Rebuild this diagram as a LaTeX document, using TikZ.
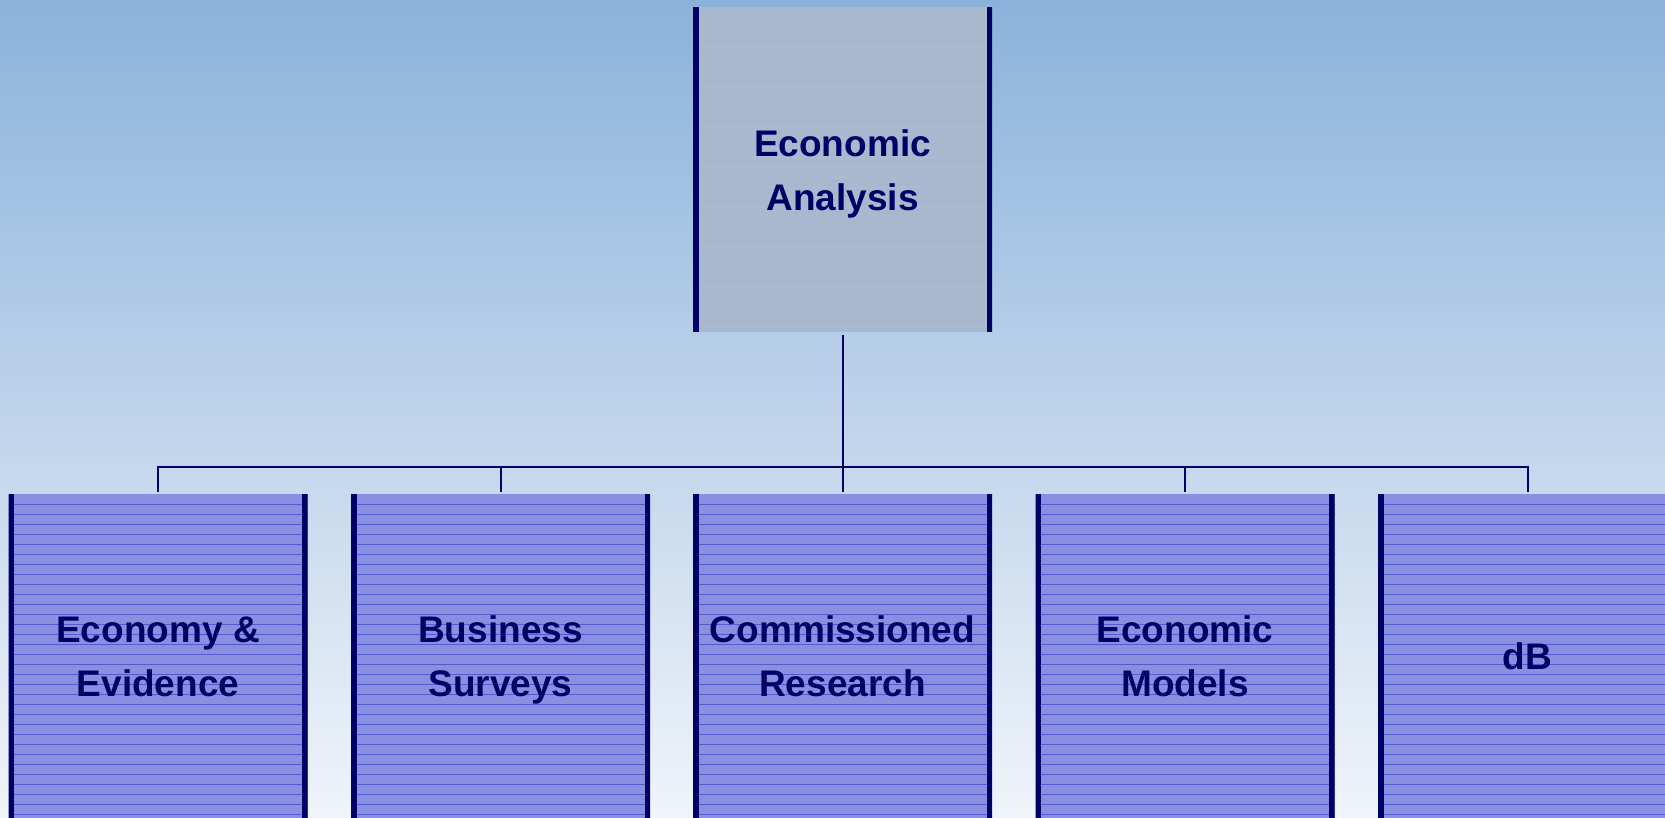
\documentclass[tikz,border=0pt]{standalone}
\usepackage{fontspec}
\setmainfont{Liberation Sans}
\usepackage{tikz}
\usepackage{xcolor}

\definecolor{bgtop}{HTML}{8BB2DB}
\definecolor{bgbottom}{HTML}{F0F4FA}
\definecolor{navy}{HTML}{000066}
\definecolor{headfill}{HTML}{A8B8CE}
\definecolor{headline}{HTML}{B6BBC0}
\definecolor{unitfill}{HTML}{8A90E0}
\definecolor{unitline}{HTML}{5559D2}

\tikzset{
  orgbox/.style={rectangle, minimum width=299pt, inner sep=0pt, align=center,
    text=navy, font=\fontsize{37}{54}\selectfont\bfseries},
  headbox/.style={orgbox, minimum height=325pt, fill=headfill,
    path picture={
      \foreach \k in {1,...,32}
        \draw[headline, line width=0.5pt] ([yshift=-\k*10pt]path picture bounding box.north west) -- ([yshift=-\k*10pt]path picture bounding box.north east);
      \draw[navy, line width=11pt] (path picture bounding box.south west) -- (path picture bounding box.north west);
      \draw[navy, line width=11pt] (path picture bounding box.south east) -- (path picture bounding box.north east);
    }},
  unitbox/.style={orgbox, minimum height=324pt, fill=unitfill,
    path picture={
      \foreach \k in {1,...,32}
        \draw[unitline, line width=0.8pt] ([yshift=-\k*10pt]path picture bounding box.north west) -- ([yshift=-\k*10pt]path picture bounding box.north east);
      \draw[navy, line width=11pt] (path picture bounding box.south west) -- (path picture bounding box.north west);
      \draw[navy, line width=11pt] (path picture bounding box.south east) -- (path picture bounding box.north east);
    }},
  orgtext/.style={inner sep=0pt, align=center, text=navy, font=\fontsize{37}{54}\selectfont\bfseries},
  link/.style={navy, line width=2pt}
}

\begin{document}
\begin{tikzpicture}[x=1pt, y=1pt]
    \clip (0,0) rectangle (1665,818);
    \shade[top color=bgtop, bottom color=bgbottom] (0,0) rectangle (1665,818);

    % Head of the unit
    \node[headbox] (top) at (842.5,648.5) {};
    \node[orgtext] (toptext) at ([yshift=-3pt]top.center) {\strut Economic\\\strut Analysis};

    % Teams below
    \node[unitbox] (econ)   at (158,162)    {};
    \node[unitbox] (biz)    at (500.5,162)  {};
    \node[unitbox] (comm)   at (842.5,162)  {};
    \node[unitbox] (models) at (1185,162)   {};
    \node[unitbox] (db)     at (1527.5,162) {};
    \node[orgtext] at ([yshift=-3pt]econ.center)   {\strut Economy \&\\\strut Evidence};
    \node[orgtext] at ([yshift=-3pt]biz.center)    {\strut Business\\\strut Surveys};
    \node[orgtext] at ([yshift=-3pt]comm.center)   {\strut Commissioned\\\strut Research};
    \node[orgtext] at ([yshift=-3pt]models.center) {\strut Economic\\\strut Models};
    \node[orgtext] at ([yshift=-3pt]db.center)     {\strut dB};

    % Connectors
    \coordinate (bus) at (842.5,351);
    \foreach \c in {econ,biz,comm,models,db}
        \draw[link] ([yshift=-3pt]top.south) -- (bus) -| ([yshift=2pt]\c.north);
\end{tikzpicture}
\end{document}
